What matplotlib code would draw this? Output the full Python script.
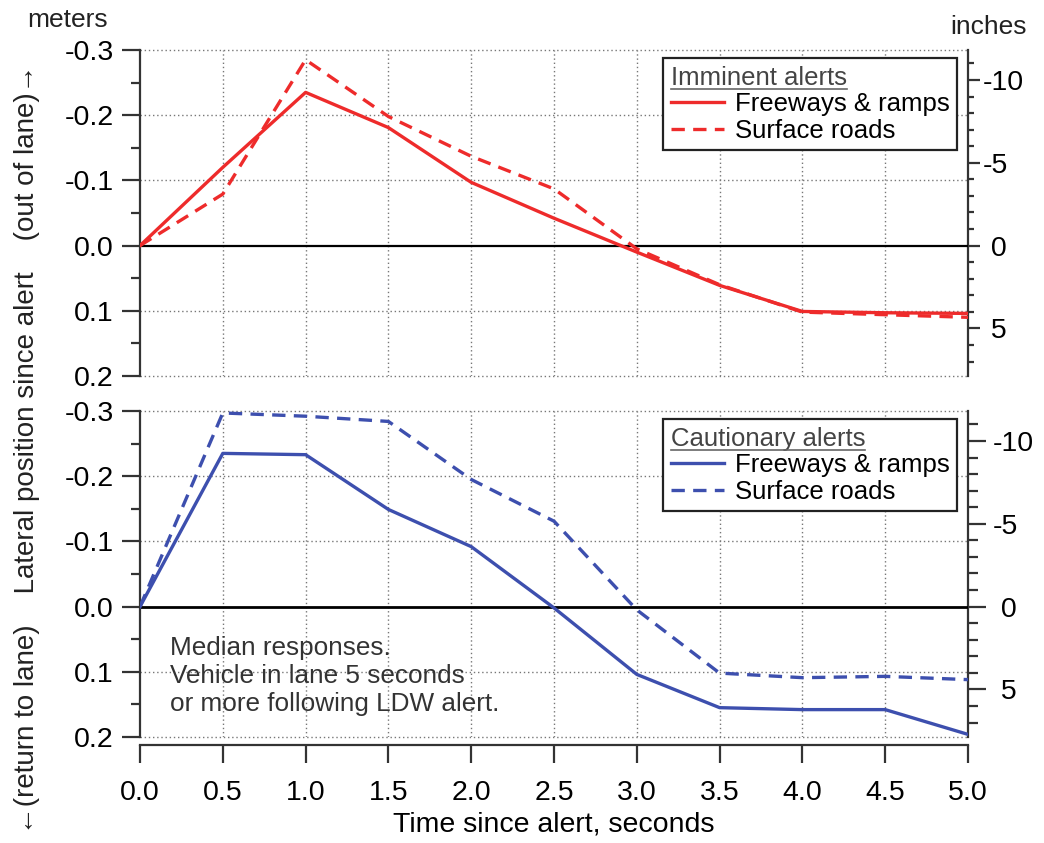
import matplotlib
matplotlib.use("Agg")
import matplotlib.pyplot as plt
from matplotlib.ticker import MultipleLocator
from matplotlib.lines import Line2D

plt.rcParams['font.family'] = ['Liberation Sans', 'DejaVu Sans']

# ---- data (meters; negative = out of lane) ----
time_s = [0.0, 0.5, 1.0, 1.5, 2.0, 2.5, 3.0, 3.5, 4.0, 4.5, 5.0]
imm_freeway = [0.0, -0.120, -0.235, -0.181, -0.097, -0.042, 0.010, 0.061, 0.101, 0.103, 0.104]
imm_surface = [0.0, -0.079, -0.285, -0.198, -0.137, -0.087, 0.005, 0.060, 0.102, 0.106, 0.110]
cau_freeway = [0.0, -0.235, -0.233, -0.149, -0.092, 0.002, 0.104, 0.155, 0.158, 0.158, 0.196]
cau_surface = [0.0, -0.297, -0.292, -0.284, -0.195, -0.131, 0.005, 0.102, 0.109, 0.107, 0.112]

xticks = [0.0, 0.5, 1.0, 1.5, 2.0, 2.5, 3.0, 3.5, 4.0, 4.5, 5.0]
xtick_labels = ['0.0', '0.5', '1.0', '1.5', '2.0', '2.5', '3.0', '3.5', '4.0', '4.5', '5.0']
yticks_m = [-0.3, -0.2, -0.1, 0.0, 0.1, 0.2]
ytick_labels_m = ['-0.3', '-0.2', '-0.1', '0.0', '0.1', '0.2']
yticks_in = [-10, -5, 0, 5]
ytick_labels_in = ['-10', '-5', ' 0', ' 5']

RED = '#EE2B2B'
BLUE = '#3D4FAE'
FS_TICK = 20.5
FS_LEG = 18.5
SPINE = '#333333'

fig = plt.figure(figsize=(10.44, 8.43), dpi=100)
W, H = 1044, 843
ax1 = fig.add_axes([140 / W, 1 - 376 / H, 828 / W, 326 / H])
ax2 = fig.add_axes([140 / W, 1 - 737 / H, 828 / W, 326 / H])

m2in = lambda y: y / 0.0254
in2m = lambda y: y * 0.0254

panels = [
    (ax1, imm_freeway, imm_surface, RED, 'Imminent alerts', True),
    (ax2, cau_freeway, cau_surface, BLUE, 'Cautionary alerts', False),
]

legends = []
for ax, fw, sf, col, title, is_top in panels:
    ax.set_xlim(0, 5)
    ax.set_ylim(0.2, -0.3)
    # grid
    for xv in xticks[1:-1]:
        ax.axvline(xv, color='#777777', lw=1.0, ls=(0, (1, 2)), zorder=1)
    for yv in [-0.3, -0.2, -0.1, 0.1, 0.2]:
        ax.axhline(yv, color='#777777', lw=1.0, ls=(0, (1, 2)), zorder=1, clip_on=False)
    ax.axhline(0, color='black', lw=1.6 if is_top else 2.0, zorder=2)

    l1, = ax.plot(time_s, fw, color=col, lw=2.4, zorder=3, label='Freeways & ramps')
    l2, = ax.plot(time_s, sf, color=col, lw=2.4, ls=(0, (4, 2.5)), zorder=3, label='Surface roads')

    ax.set_yticks(yticks_m, labels=ytick_labels_m)
    ax.yaxis.set_minor_locator(MultipleLocator(0.05))
    ax.tick_params(axis='y', which='major', direction='out', length=13, width=1.6,
                   color=SPINE, labelsize=FS_TICK, pad=6)
    ax.tick_params(axis='y', which='minor', direction='out', length=6.5, width=1.6, color=SPINE)

    ax.spines['top'].set_visible(False)
    ax.spines['right'].set_visible(False)
    ax.spines['left'].set_linewidth(1.6)
    ax.spines['left'].set_color(SPINE)

    sec = ax.secondary_yaxis('right', functions=(m2in, in2m))
    sec.set_yticks(yticks_in, labels=ytick_labels_in)
    sec.yaxis.set_minor_locator(MultipleLocator(1))
    sec.spines['right'].set_linewidth(1.6)
    sec.spines['right'].set_color(SPINE)
    if is_top:
        sec.tick_params(which='major', direction='out', length=8.5, width=1.6, color=SPINE,
                        labelsize=FS_TICK, pad=2)
        sec.tick_params(which='minor', direction='out', length=4.3, width=1.6, color=SPINE)
    else:
        sec.tick_params(which='major', direction='out', length=13, width=1.6, color=SPINE,
                        labelsize=FS_TICK, pad=5)
        sec.tick_params(which='minor', direction='out', length=7, width=1.6, color=SPINE)

    if is_top:
        ax.spines['bottom'].set_visible(False)
        ax.set_xticks([])
    else:
        ax.spines['bottom'].set_position(('outward', 6))
        ax.spines['bottom'].set_linewidth(1.6)
        ax.spines['bottom'].set_color(SPINE)
        ax.set_xticks(xticks, labels=xtick_labels)
        ax.tick_params(axis='x', direction='out', length=13, width=1.6, color=SPINE,
                       labelsize=FS_TICK, pad=12)
        ax.set_xlabel('Time since alert, seconds', fontsize=FS_TICK, labelpad=4)

    leg = ax.legend(handles=[l1, l2], title=title, loc='upper right',
                    bbox_to_anchor=(0.987, 0.976), fontsize=FS_LEG, title_fontsize=FS_LEG,
                    alignment='left', frameon=True, fancybox=False, framealpha=1,
                    edgecolor='#222222', borderpad=0.3, labelspacing=0.1,
                    handlelength=2.1, handletextpad=0.4, borderaxespad=0)
    leg.get_frame().set_linewidth(1.6)
    leg.get_title().set_color('#444444')
    leg.set_zorder(5)
    legends.append(leg)

ax2.text(0.18, 0.045, 'Median responses.\nVehicle in lane 5 seconds\nor more following LDW alert.',
         fontsize=18.8, color='#333333', va='top', ha='left', linespacing=1.2)

fig.text(68 / W, 1 - 20 / H, 'meters', fontsize=19, ha='center', va='center', color='#222222')
fig.text(988 / W, 1 - 27 / H, 'inches', fontsize=19, ha='center', va='center', color='#222222')
fig.text(27 / W, 1 - 449 / H,
         '\u2190(return to lane)    Lateral position since alert    (out of lane)\u2192',
         rotation=90, fontsize=20, ha='center', va='center', color='#222222')

# underline legend titles
fig.canvas.draw()
for leg in legends:
    bb = leg.get_title().get_window_extent()
    y = (bb.y0 + 1) / H
    fig.add_artist(Line2D([bb.x0 / W, bb.x1 / W], [y, y], transform=fig.transFigure,
                          color='#666666', lw=1.2, zorder=10))

fig.savefig('out.png', dpi=100)
